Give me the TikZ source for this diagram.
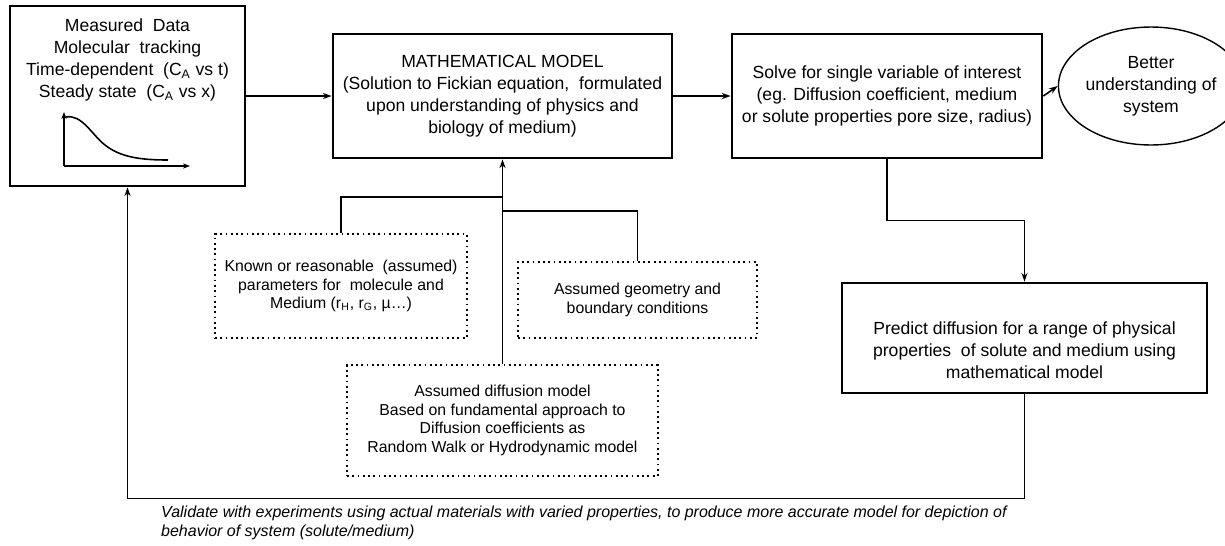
\documentclass[tikz,border=0pt]{standalone}
\usepackage{fontspec}
\setmainfont{Liberation Sans}
\usetikzlibrary{shapes, arrows.meta, calc}

\tikzset{
  mainbox/.style={draw, line width=1.6pt, align=center, inner sep=0pt},
  dotbox/.style={draw, dotted, line width=1pt, align=center, inner sep=0pt, font=\fontsize{9}{10.5}\selectfont},
  conn/.style={line width=0.9pt, -{Stealth[length=5pt,width=3.5pt]}},
  link/.style={line width=0.9pt}
}

\begin{document}
\begin{tikzpicture}[x=0.02cm, y=-0.02cm, font=\fontsize{10}{12.5}\selectfont]
  \useasboundingbox (0,0) rectangle (1225,545);

  \node[mainbox, minimum width=4.7cm, minimum height=3.6cm] (data) at (127.5,96) {};
  \node[align=center] (datatxt) at (127.5,60) {Measured\ \ Data\\Molecular\ \ tracking\\Time-dependent\ \ (C\textsubscript{A} vs t)\\Steady state\ \ (C\textsubscript{A} vs x)};
  \coordinate (O) at (64,166);
  \draw[line width=0.9pt, -{Stealth[length=4pt,width=3pt]}] (O) -- (64,112);
  \draw[line width=0.9pt, -{Stealth[length=4pt,width=3pt]}] (O) -- (190,166);
  \draw[line width=0.9pt] (66,117) .. controls (82,114) and (92,135) .. (105,145) .. controls (120,157) and (140,160) .. (168,160);

  \node[mainbox, minimum width=6.78cm, minimum height=2.48cm] (model) at (502.5,96) {MATHEMATICAL MODEL\\(Solution to Fickian equation,\ \ formulated\\upon understanding of physics and\\biology of medium)};
  \node[mainbox, minimum width=6.2cm, minimum height=2.48cm] (sol) at (887,96) {Solve for single variable of interest\\(eg. Diffusion coefficient, medium\\or solute properties pore size, radius)};
  \node[ellipse, draw, line width=0.8pt, minimum width=2.96cm, minimum height=2.36cm, inner sep=0pt, align=center] (better) at (1151,86) {Better\\understanding of\\system};
  \node[mainbox, minimum width=7.3cm, minimum height=2.2cm] (pred) at (1024.5,338) {};
  \node[align=center] (predtxt) at (1024.5,350) {Predict diffusion for a range of physical\\properties\ \ of solute and medium using\\mathematical model};

  \node[dotbox, minimum width=5.04cm, minimum height=2.08cm] (known) at (341,286) {Known or reasonable\ \ (assumed)\\parameters for\ \ molecule and\\Medium (r\textsubscript{H}, r\textsubscript{G}, µ…)};
  \node[dotbox, minimum width=4.78cm, minimum height=1.52cm] (geo) at (637.5,300) {Assumed geometry and\\boundary conditions};
  \node[dotbox, minimum width=6.22cm, minimum height=2.22cm] (diff) at (502.5,420.5) {Assumed diffusion model\\Based on fundamental approach to\\Diffusion coefficients as\\Random Walk or Hydrodynamic model};

  \node[anchor=west, align=left, font=\fontsize{9.1}{11}\selectfont\itshape] (note) at (155,523) {Validate with experiments using actual materials with varied properties, to produce more accurate model for depiction of\\behavior of system (solute/medium)};

  \draw[conn] (data.east) -- (model.west);
  \draw[conn] (model.east) -- (sol.west);
  \draw[conn] (sol.east) -- (better.west);
  \draw[conn] (sol.south) -- ++(0,61) -| (pred.north);
  \draw[conn] (pred.south) -- ++(0,104) -| (data.south);
  \draw[conn] (diff.north) -- (model.south);
  \draw[link] (known.north) |- (model.south |- 0,197);
  \draw[link] (geo.north) |- (model.south |- 0,211);
\end{tikzpicture}
\end{document}
